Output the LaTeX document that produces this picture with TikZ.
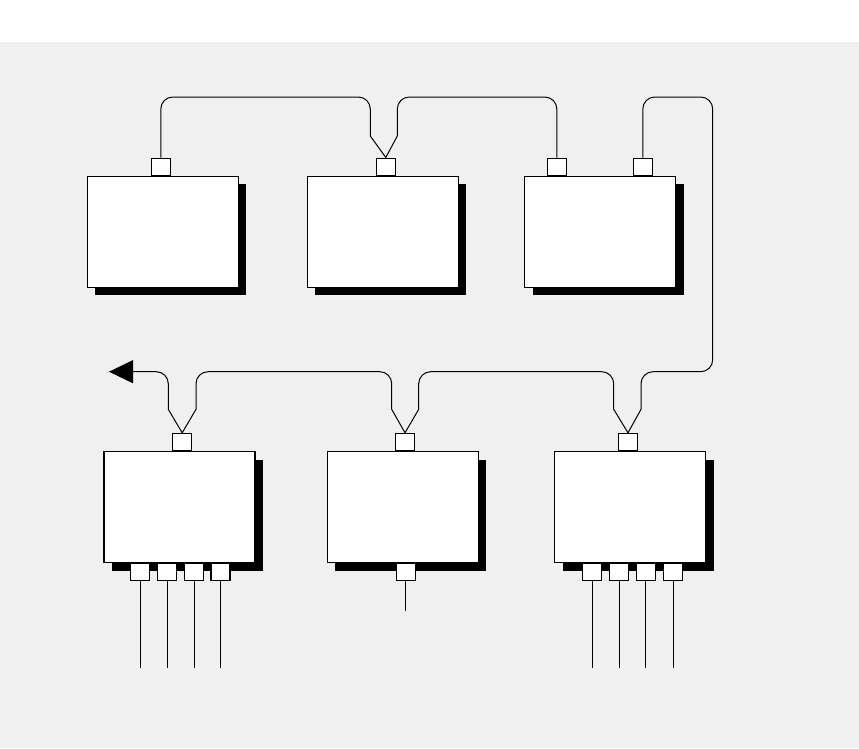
\documentclass[tikz,border=0pt]{standalone}
\usepackage{xcolor}
\usepackage{tikz}
\usetikzlibrary{arrows.meta, positioning, shadows}

\definecolor{bgpanel}{RGB}{240,240,240}

\begin{document}
\begin{tikzpicture}[
    x=1pt, y=-1pt,
    unit/.style={draw, fill=white, line width=1.2pt, minimum width=151pt, minimum height=111pt, inner sep=0pt,
        drop shadow={shadow xshift=8pt, shadow yshift=-8pt, fill=black, opacity=1}},
    port/.style={draw, fill=white, line width=1.1pt, minimum width=19pt, minimum height=17pt, inner sep=0pt},
    wire/.style={line width=1pt},
    arr/.style={-{Triangle[length=24pt, width=23pt]}, line width=1pt},
]
\useasboundingbox (0,0) rectangle (859,748);
\fill[bgpanel] (0,42) rectangle (859,748);

\node[unit] (u1) at (162.8,231.7) {};
\node[unit] (u2) at (382.8,231.7) {};
\node[unit] (u3) at (600.2,231.7) {};
\node[unit] (u4) at (179.5,507) {};
\node[unit] (u5) at (402.8,507) {};
\node[unit] (u6) at (630.3,507) {};

\node[port, anchor=south] (p1) at ([xshift=-2pt]u1.north) {};
\node[port, anchor=south] (p2) at ([xshift=3pt]u2.north) {};
\node[port, anchor=south] (p3a) at ([xshift=-43.4pt]u3.north) {};
\node[port, anchor=south] (p3b) at ([xshift=42.6pt]u3.north) {};
\node[port, anchor=south] (p4) at ([xshift=2.7pt]u4.north) {};
\node[port, anchor=south] (p5) at ([xshift=2.2pt]u5.north) {};
\node[port, anchor=south] (p6) at ([xshift=-2.3pt]u6.north) {};

\node[port, anchor=north] (q4a) at ([xshift=-39.3pt]u4.south) {};
\node[port, anchor=north] (q4b) at ([xshift=-12.5pt]u4.south) {};
\node[port, anchor=north] (q4c) at ([xshift=14.5pt]u4.south) {};
\node[port, anchor=north] (q4d) at ([xshift=41pt]u4.south) {};
\node[port, anchor=north] (q5) at ([xshift=3pt]u5.south) {};
\node[port, anchor=north] (q6a) at ([xshift=-38.3pt]u6.south) {};
\node[port, anchor=north] (q6b) at ([xshift=-11.3pt]u6.south) {};
\node[port, anchor=north] (q6c) at ([xshift=15.5pt]u6.south) {};
\node[port, anchor=north] (q6d) at ([xshift=42.7pt]u6.south) {};

\coordinate (out) at (109,371.7);
\coordinate (e5) at (q5.south |- 0,611);
\foreach \i in {a,b,c,d} {
  \coordinate (e4\i) at (q4\i.south |- 0,668);
  \coordinate (e6\i) at (q6\i.south |- 0,668);
  \draw[wire] (q4\i) -- (e4\i);
  \draw[wire] (q6\i) -- (e6\i);
}
\draw[wire] (q5) -- (e5);

\draw[wire] [rounded corners=12pt] (p1.north) |- (370.3,97) [sharp corners] -- (370.3,136) -- (p2.north);
\draw[wire] (p2.north) -- (397.3,136) [rounded corners=12pt] -- (397.3,97) -| (p3a.north);
\draw[wire] [rounded corners=12pt] (p3b.north) |- (712.7,97) |- (641,371.7) [sharp corners] -- (641,409.3) -- (p6.north);
\draw[wire] (p6.north) -- (613.7,409.3) [rounded corners=12pt] -- (613.7,371.7) -- (418.7,371.7) [sharp corners] -- (418.7,409.3) -- (p5.north);
\draw[wire] (p5.north) -- (391.7,409.3) [rounded corners=12pt] -- (391.7,371.7) -- (196,371.7) [sharp corners] -- (196,409.3) -- (p4.north);
\draw[arr] (p4.north) -- (168.3,409.3) [rounded corners=12pt] -- (168.3,371.7) -- (out);
\end{tikzpicture}
\end{document}
